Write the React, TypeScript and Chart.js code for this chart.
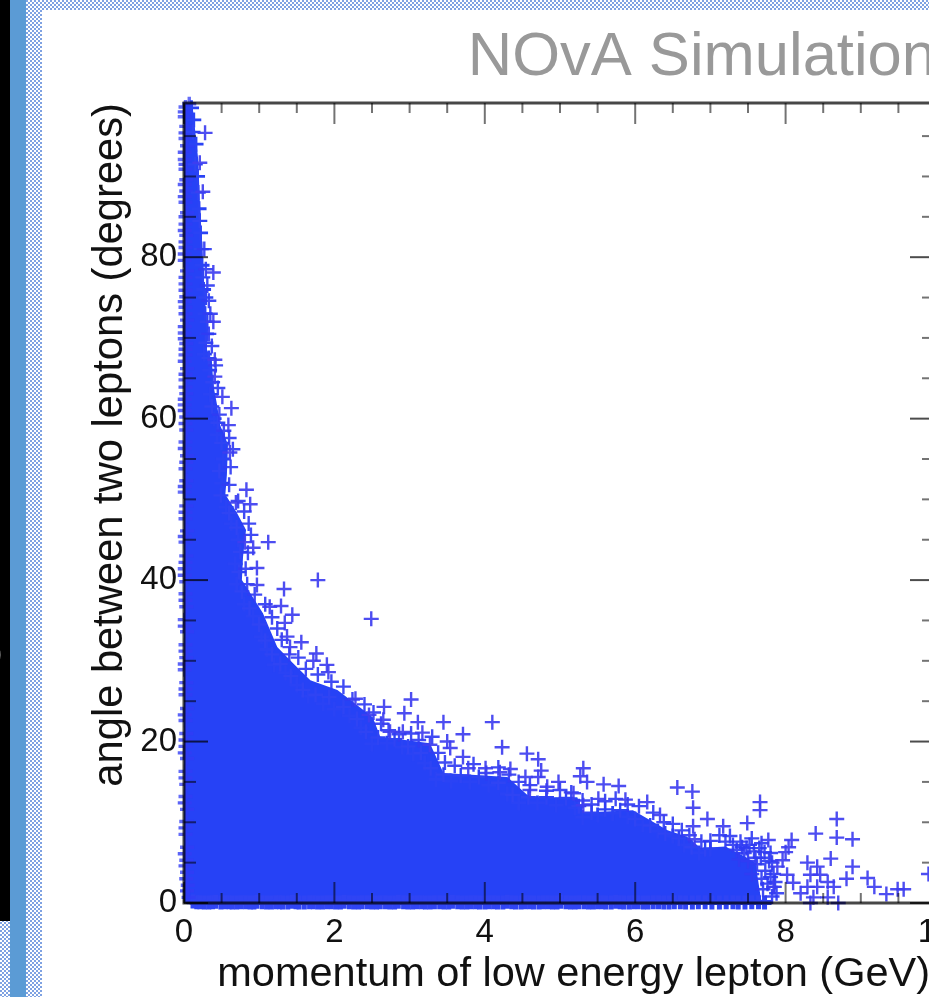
import React, { useEffect, useRef } from "react";
import { Chart, registerables } from "chart.js";

Chart.register(...registerables);

type P = [number, number];

const titleText = "NOvA Simulation";
const xTitle = "momentum of low energy lepton (GeV)";
const yTitle = "angle between two leptons (degrees)";
const xMajorTicks = [0, 2, 4, 6, 8, 10];
const xMinorTicks = [0.5, 1, 1.5, 2.5, 3, 3.5, 4.5, 5, 5.5, 6.5, 7, 7.5, 8.5, 9, 9.5];
const yMajorTicks = [0, 20, 40, 60, 80];
const yMinorTicks = [5, 10, 15, 25, 30, 35, 45, 50, 55, 65, 70, 75, 85, 90, 95];

// Outline of the solid, saturated part of the cloud.
const denseOutline: P[] = [
  [0, 99.1], [0.11, 99.1], [0.19, 92], [0.21, 87.1], [0.25, 80], [0.28, 74.7], [0.31, 71], [0.28, 69],
  [0.37, 67.3], [0.39, 64.2], [0.44, 61.7], [0.48, 59.2], [0.585, 56.8], [0.57, 53], [0.55, 50.6],
  [0.705, 48.3], [0.825, 46.2], [0.785, 42.9], [0.77, 40], [0.88, 38.4], [1.05, 35.9], [1.24, 31.7],
  [1.45, 29.7], [1.68, 27.6], [2.04, 26.4], [2.51, 23], [2.61, 20.6], [3.27, 19.8], [3.45, 16.1],
  [4.3, 15.6], [4.6, 13.1], [5.23, 13.1], [5.31, 11.2], [5.97, 11.5], [6.43, 9], [6.69, 8.2],
  [6.87, 6.8], [7.2, 7], [7.45, 5.8], [7.6, 5], [7.68, 0],
];

// Individually visible + markers above the solid region.
const outlierPoints: P[] = [
  [0.28, 95.4], [0.21, 91.7], [0.25, 88.1], [0.39, 78.1], [0.39, 72], [0.41, 67.3], [0.41, 65.2],
  [0.51, 62.7], [0.63, 61.3], [0.59, 59.2], [0.61, 55.8], [0.83, 51.2], [0.88, 49.4], [0.69, 49.6],
  [1.12, 44.7], [0.92, 44], [0.81, 44.7], [0.97, 41.5], [0.97, 39.4], [1.33, 38.9], [1.78, 40],
  [2.49, 35.2], [1.29, 36.8], [1.14, 36.7], [1.44, 35.7], [1.34, 34.7], [1.37, 33], [1.56, 32.3],
  [1.41, 31.7], [1.76, 30.9], [1.72, 30], [1.9, 29.5], [1.92, 28.6], [2.28, 25.3], [2.66, 24.3],
  [3.02, 25.2], [2.93, 23.5], [2.65, 22.7], [2.46, 23.3], [3.11, 22.4], [3.45, 22.4], [4.1, 22.4],
  [3.71, 20.9], [3.5, 20], [4.23, 19.3], [4.56, 18.5], [4.71, 17.8], [3.71, 18.1], [3.54, 19.2],
  [5.31, 16.7], [5.27, 15.7], [5.36, 15], [5.58, 14.7], [5.78, 14.5], [4.98, 15], [4.75, 16.4],
  [4.71, 15.6], [4.83, 14.4], [4.54, 15.6], [4.34, 16.6], [5.51, 12.9], [5.87, 12.8], [2.91, 21.2],
  [2.74, 21.2], [3.17, 21.1], [3.27, 19.6], [4.01, 16.7], [3.78, 16.7], [4.2, 16.2], [5.18, 13.6],
  [4.6, 14], [5.31, 12.1], [6.56, 14.3], [6.76, 13.8], [6.77, 11.8], [6.77, 9.5], [6.79, 7.9],
  [6.96, 10.4], [7.17, 9.5], [7.49, 9.9], [7.66, 12.5], [7.66, 11.5], [7.77, 7.8], [8.08, 7.8],
  [8.04, 6.9], [8.4, 8.6], [8.68, 10.4], [8.68, 8.1], [8.89, 7.9], [8.6, 5.5], [8.89, 4.5],
  [8.81, 3], [9.09, 3.1], [9.18, 2], [9.34, 1.1], [9.49, 1.7], [9.57, 1.7], [9.9, 3.6],
  [6.16, 12.5], [6.33, 10.9], [8.29, 5], [8.42, 4.5], [8.33, 3.5], [8.46, 3.5], [8.29, 2],
  [8.42, 2], [8.64, 2], [8.56, 2.6], [8.37, 0.7], [8.7, 0], [8.1, 2.5], [8.02, 3.5], [7.96, 5.3],
  [8, 6.3], [7.84, 2], [7.89, 4.5], [8.2, 1.2], [8.33, 0], [8.56, 0.7],
];

// Markers that make up the ragged rim of the solid region.
const rimPoints: P[] = [
  [0.1, 98.5], [0.13, 97], [0.16, 94], [0.18, 90], [0.2, 86], [0.22, 83], [0.24, 79], [0.26, 76],
  [0.28, 73], [0.3, 70.5], [0.27, 68], [0.34, 66], [0.35, 63], [0.4, 60], [0.44, 58], [0.52, 55],
  [0.5, 52], [0.56, 49], [0.63, 47], [0.72, 45], [0.68, 42], [0.7, 39.5], [0.8, 37], [0.92, 35.5],
  [1.03, 33], [1.1, 31.4], [1.2, 29.5], [1.35, 28.5], [1.5, 27], [1.65, 25.6], [1.85, 24.7], [2, 24],
  [2.2, 23.2], [2.35, 21.7], [2.5, 19.7], [2.7, 19.8], [2.9, 19.3], [3.05, 18.5], [3.2, 17.3],
  [3.35, 15.3], [3.55, 15.1], [3.8, 15], [4.05, 14.6], [4.3, 13.5], [4.45, 12.4], [4.7, 12.4],
  [4.95, 12.1], [5.2, 11.8], [5.3, 10.6], [5.5, 10.9], [5.7, 11.1], [5.9, 10.7], [6.1, 9.7],
  [6.3, 8.9], [6.5, 8.3], [6.65, 7.2], [6.85, 6.2], [7, 6.7],
];

const outerRimPoints: P[] = [
  [0.12, 95.5], [0.15, 91.5], [0.19, 88], [0.21, 84.5], [0.23, 81], [0.25, 77.5], [0.29, 75], [0.31, 72],
  [0.29, 69.4], [0.33, 67.5], [0.38, 64.5], [0.37, 61.5], [0.45, 59.5], [0.5, 57], [0.47, 53.5], [0.49, 50.5],
  [0.6, 48.3], [0.7, 46.5], [0.75, 43.5], [0.73, 41], [0.77, 38.6], [0.87, 36.5], [1, 34.5], [1.08, 32.5],
  [1.17, 30.8], [1.28, 29.6], [1.42, 28.1], [1.58, 26.4], [1.75, 25.8], [1.93, 25.5], [2.12, 24.3], [2.3, 22.8],
  [2.42, 21.2], [2.58, 20.5], [2.8, 20.3], [2.98, 19.4], [3.15, 18.6], [3.28, 16.7], [3.45, 15.9], [3.68, 15.8],
  [3.92, 15.6], [4.18, 14.9], [4.37, 13.4], [4.58, 13.1], [4.82, 13.1], [5.08, 13], [5.25, 12], [5.42, 11.2],
  [5.6, 11.6], [5.8, 11.5], [6, 10.4], [6.2, 9.6], [6.4, 8.6], [6.58, 8], [6.75, 6.9], [6.93, 6.7],
];

// Markers straddling the edge of the cloud, so that their arms stick out of it.
const fringePoints: P[] = [
  [0.27, 81], [0.29, 78.5], [0.31, 76.5], [0.33, 74.6], [0.35, 73], [0.33, 70.5], [0.37, 69], [0.42, 66.6],
  [0.45, 63.8], [0.47, 60.5], [0.53, 58.5], [0.6, 57.6], [0.65, 56.2], [0.62, 54], [0.6, 51.8], [0.72, 49.8],
  [0.8, 48.5], [0.86, 47], [0.89, 45.6], [0.85, 43.4], [0.82, 41.4], [0.84, 39.5], [0.94, 38.2], [1.08, 37],
  [1.17, 35.4], [1.24, 34], [1.3, 32.6], [1.4, 30.8], [1.52, 30.4], [1.62, 29], [1.78, 28.3], [1.96, 27.4],
  [2.12, 26.8], [2.24, 25.2], [2.4, 24.6], [2.52, 23.6], [2.62, 22.2], [2.72, 21.4], [2.86, 20.9], [3.02, 21],
  [3.12, 20.2], [3.3, 20.6], [3.38, 18.6], [3.47, 17.4], [3.6, 17], [3.85, 17.2], [4.02, 16.1], [4.18, 16.8],
  [4.32, 15.9], [4.45, 15], [4.6, 14.6], [4.82, 13.9], [5, 14], [5.15, 13.7], [5.3, 12.7], [5.42, 12.2],
  [5.6, 12.6], [5.74, 12.9], [5.9, 12.2], [6.05, 12], [6.24, 11.2], [6.38, 10], [6.5, 9.8], [6.62, 9],
  [6.72, 8.4], [6.88, 7.6], [7, 7.7], [7.12, 8.4], [7.26, 8.3], [7.4, 7.6], [7.55, 8], [7.68, 7.4],
  [7.8, 6.2], [7.82, 5], [7.84, 3.6], [7.86, 2.6], [7.88, 1.2],
];

// The thinner tail of the cloud, where white still shows between the markers.
const tailPoints: P[] = [
  [7.3, 7.2], [7.35, 6.6], [7.38, 5.4], [7.42, 6.9], [7.45, 6.2], [7.48, 6.8], [7.5, 5.2], [7.52, 7.2],
  [7.55, 3.6], [7.58, 6.4], [7.6, 5.6], [7.62, 4.8], [7.65, 6.8], [7.67, 5.6], [7.68, 3], [7.7, 1.7],
  [7.72, 6.3], [7.73, 4], [7.76, 2.4], [7.78, 5.2], [7.8, 3.2], [7.82, 0.8], [7.85, 2], [7.2, 7.6],
];

// Markers sitting on the y axis, which spill to its left.
const leftEdgePoints: P[] = [
  [0.02, 98.6], [0.07, 99], [0.01, 97.4], [0.03, 96.2], [0.02, 94.7], [0.04, 93.8], [0.01, 92.1],
  [0.02, 90.9], [0.03, 89.6], [0.03, 88.2], [0.02, 86.8], [0.04, 85.5], [0.02, 84.1], [0.03, 82.7],
  [0.02, 81.2], [0.01, 79.6], [0.04, 78.3], [0.02, 76.7], [0.03, 75.1], [0.02, 73.8], [0.04, 72.2],
  [0.01, 70.6], [0.03, 69.3], [0.02, 67.9], [0.04, 66.2], [0.02, 64.8], [0.03, 63.1], [0.01, 61.7],
  [0.03, 60.2], [0.03, 58.6], [0.02, 57.1], [0.04, 55.4], [0.02, 53.8], [0.03, 52.3], [0.01, 50.9],
  [0.03, 49.2], [0.02, 47.6], [0.04, 46.1], [0.02, 44.7], [0.03, 43], [0.01, 41.4], [0.03, 39.8],
  [0.02, 38.3], [0.03, 36.7], [0.01, 35.1], [0.04, 33.6], [0.02, 32], [0.03, 30.4], [0.01, 28.9],
  [0.03, 27.3], [0.02, 25.8], [0.04, 24.1], [0.02, 22.6], [0.03, 21], [0.02, 19.4], [0.04, 17.9],
  [0.02, 16.3], [0.03, 14.7], [0.02, 13.2], [0.04, 11.6], [0.03, 10.1], [0.02, 8.5], [0.04, 6.9],
  [0.03, 5.3], [0.04, 3.8], [0.05, 2.2], [0.06, 0.7],
];

const leftEdgeExtra: P[] = [
  [0.01, 61], [0.02, 59.4], [0.01, 56.3], [0.03, 54.6], [0.01, 51.6], [0.02, 48.4], [0.01, 45.4],
  [0.02, 42.2], [0.01, 40.6], [0.02, 37.5], [0.01, 34.3], [0.02, 31.2], [0.01, 29.6], [0.02, 26.5],
  [0.01, 23.3], [0.02, 20.2], [0.01, 18.6], [0.02, 15.5], [0.01, 12.4], [0.02, 9.3], [0.01, 6.1],
  [0.02, 4.6], [0.03, 3], [0.04, 1.5], [0.02, 75.9], [0.01, 71.4], [0.02, 65.5], [0.01, 87.5],
  [0.01, 98], [0.02, 95.4], [0.01, 93], [0.02, 91.5], [0.01, 89], [0.02, 85], [0.01, 83.3], [0.02, 81.9],
  [0.01, 80.4], [0.02, 77.5], [0.01, 74.5], [0.02, 73], [0.01, 69.9], [0.02, 68.6], [0.01, 67.1],
  [0.02, 63.9], [0.01, 62.4],
];

// Markers sitting on the x axis, which spill below it.
const bottomEdgePoints: P[] = [
  [0.12, 0.2], [0.21, 0.1], [0.33, 0.05], [0.42, 0.15], [0.55, 0.1], [0.64, 0.05], [0.76, 0.1],
  [0.88, 0.05], [0.97, 0.15], [1.1, 0.05], [1.22, 0.1], [1.31, 0.05], [1.44, 0.15], [1.53, 0.05],
  [1.67, 0.1], [1.78, 0.05], [1.9, 0.1], [2.02, 0.05], [2.13, 0.15], [2.26, 0.05], [2.37, 0.1],
  [2.5, 0.05], [2.61, 0.1], [2.74, 0.05], [2.85, 0.15], [2.98, 0.05], [3.1, 0.1], [3.21, 0.05],
  [3.33, 0.1], [3.46, 0.05], [3.57, 0.15], [3.7, 0.05], [3.82, 0.1], [3.93, 0.05], [4.06, 0.1],
  [4.17, 0.05], [4.3, 0.15], [4.41, 0.05], [4.54, 0.1], [4.65, 0.05], [4.78, 0.1], [4.9, 0.05],
  [5.01, 0.15], [5.14, 0.05], [5.25, 0.1], [5.38, 0.05], [5.5, 0.1], [5.61, 0.05], [5.74, 0.15],
  [5.85, 0.05], [5.98, 0.1], [6.11, 0.05], [6.24, 0.1], [6.38, 0.05], [6.52, 0.1], [6.67, 0.05],
  [6.84, 0.1], [7.02, 0.05], [7.21, 0.1], [7.37, 0.05], [7.55, 0.1], [7.72, 0.05],
];

const bottomEdgeExtra: P[] = [
  [0.17, 0.1], [0.27, 0.05], [0.38, 0.1], [0.49, 0.05], [0.6, 0.1], [0.7, 0.05], [0.82, 0.1], [0.93, 0.05],
  [1.04, 0.1], [1.16, 0.05], [1.27, 0.1], [1.38, 0.05], [1.49, 0.1], [1.6, 0.05], [1.72, 0.1], [1.84, 0.05],
  [1.96, 0.1], [2.08, 0.05], [2.2, 0.1], [2.32, 0.05], [2.44, 0.1], [2.56, 0.05], [2.68, 0.1], [2.8, 0.05],
  [2.92, 0.1], [3.04, 0.05], [3.16, 0.1], [3.27, 0.05], [3.4, 0.1], [3.52, 0.05], [3.64, 0.1], [3.76, 0.05],
  [3.88, 0.1], [4, 0.05], [4.12, 0.1], [4.24, 0.05], [4.36, 0.1], [4.48, 0.05], [4.6, 0.1], [4.72, 0.05],
  [4.84, 0.1], [4.96, 0.05], [5.08, 0.1], [5.2, 0.05], [5.32, 0.1], [5.44, 0.05], [5.56, 0.1], [5.68, 0.05],
  [5.8, 0.1], [5.92, 0.05], [6.04, 0.1], [6.17, 0.05], [6.31, 0.1], [6.45, 0.05], [6.6, 0.1], [6.76, 0.05],
  [6.93, 0.1], [7.12, 0.05], [7.3, 0.1], [7.46, 0.05], [7.64, 0.1],
];

const toXY = (pts: P[]) => pts.map(([x, y]) => ({ x, y }));

const axisFramePlugin = {
  id: "axisFrame",
  afterDatasetsDraw(chart: any) {
    const { ctx, chartArea: a, scales } = chart;
    const xs = scales.x;
    const ys = scales.y;
    ctx.save();
    ctx.lineCap = "butt";
    const tick = (x1: number, y1: number, x2: number, y2: number) => {
      ctx.beginPath();
      ctx.moveTo(x1, y1);
      ctx.lineTo(x2, y2);
      ctx.stroke();
    };
    ctx.strokeStyle = "rgba(0,0,0,0.55)";
    ctx.lineWidth = 2;
    xMinorTicks.forEach((v) => {
      const p = xs.getPixelForValue(v);
      tick(p, a.top, p, a.top + 10);
      tick(p, a.bottom, p, a.bottom - 10);
    });
    yMinorTicks.forEach((v) => {
      const p = ys.getPixelForValue(v);
      tick(a.left, p, a.left + 12, p);
      tick(a.right, p, a.right - 14, p);
    });
    xMajorTicks.forEach((v) => {
      const p = xs.getPixelForValue(v);
      tick(p, a.top, p, a.top + 21);
      tick(p, a.bottom, p, a.bottom - 21);
    });
    ctx.strokeStyle = "rgba(0,0,0,0.7)";
    yMajorTicks.forEach((v) => {
      const p = ys.getPixelForValue(v);
      tick(a.left, p, a.left + 24, p);
      tick(a.right, p, a.right - 26, p);
    });
    ctx.strokeStyle = "rgba(0,0,0,0.72)";
    ctx.lineWidth = 3;
    ctx.strokeRect(a.left, a.top, a.right - a.left, a.bottom - a.top);
    // x axis title: its right end sits a little short of the axis end.
    ctx.fillStyle = "#111111";
    ctx.font = "41.5px 'Liberation Sans'";
    ctx.textAlign = "right";
    ctx.textBaseline = "alphabetic";
    ctx.fillText(xTitle, a.right - 6, 986);
    ctx.restore();
  },
};

const checker = {
  backgroundColor: "#ffffff",
  backgroundImage: "conic-gradient(#7fa2e2 25%, #ffffff 0 50%, #7fa2e2 0 75%, #ffffff 0)",
  backgroundSize: "4px 4px",
};

export default function App() {
  const ref = useRef<HTMLCanvasElement>(null);
  useEffect(() => {
    const markerStyle = {
      showLine: false,
      pointStyle: "cross",
      pointRadius: 7.5,
      pointBorderWidth: 2.4,
      pointBorderColor: "rgba(62,62,240,0.92)",
      clip: false,
    };
    const chart = new Chart(ref.current as HTMLCanvasElement, {
      type: "scatter",
      data: {
        datasets: [
          {
            label: "dense",
            data: toXY(denseOutline),
            showLine: true,
            fill: "origin",
            tension: 0,
            borderWidth: 0,
            pointRadius: 0,
            backgroundColor: "#2642f6",
            borderColor: "#2642f6",
            order: 10,
          },
          { label: "rim", data: toXY(rimPoints), ...markerStyle, pointBorderWidth: 2.8, pointBorderColor: "#2a43f5", order: 5 },
          { label: "outer rim", data: toXY(outerRimPoints), ...markerStyle, pointBorderWidth: 2.4, pointBorderColor: "#2f44f4", order: 4 },
          { label: "fringe", data: toXY(fringePoints), ...markerStyle, pointBorderColor: "rgba(48,60,243,0.92)", order: 3 },
          { label: "tail", data: toXY(tailPoints), ...markerStyle, pointBorderColor: "rgba(48,60,243,0.92)", order: 3 },
          { label: "left", data: toXY(leftEdgePoints), ...markerStyle, pointRadius: 7, pointBorderWidth: 3.4, pointBorderColor: "rgba(50,60,245,0.75)", order: 6 },
          { label: "left extra", data: toXY(leftEdgeExtra), ...markerStyle, pointRadius: 7, pointBorderWidth: 3.4, pointBorderColor: "rgba(50,60,245,0.8)", order: 6 },
          { label: "bottom", data: toXY(bottomEdgePoints), ...markerStyle, pointRadius: 7, pointBorderWidth: 5, pointBorderColor: "#2f44f4", order: 6 },
          { label: "bottom extra", data: toXY(bottomEdgeExtra), ...markerStyle, pointRadius: 7, pointBorderWidth: 5, pointBorderColor: "#2f44f4", order: 6 },
          { label: "outliers", data: toXY(outlierPoints), ...markerStyle, order: 1 },
        ],
      } as any,
      options: {
        responsive: false,
        animation: false,
        layout: { padding: { left: 0, right: 64, top: 0, bottom: 0 } },
        plugins: {
          legend: { display: false },
          tooltip: { enabled: false },
          title: {
            display: true,
            text: titleText,
            align: "end",
            color: "#999999",
            font: { family: "Liberation Sans", size: 61.5, weight: "normal", lineHeight: 1 },
            padding: { top: 27, bottom: 14.5 },
          },
        },
        scales: {
          x: {
            type: "linear",
            min: 0,
            max: 10,
            afterFit: (s: any) => { s.height = 94; },
            grid: { display: false, drawTicks: false },
            border: { display: false },
            ticks: {
              stepSize: 2,
              padding: 10,
              maxRotation: 0,
              autoSkip: false,
              color: "#111111",
              font: { family: "Liberation Sans", size: 33 },
            },
          },
          y: {
            type: "linear",
            min: 0,
            max: 99.1,
            afterFit: (s: any) => { s.width = 184; },
            grid: { display: false, drawTicks: false },
            border: { display: false },
            ticks: {
              stepSize: 20,
              includeBounds: false,
              padding: 7,
              autoSkip: false,
              color: "#111111",
              font: { family: "Liberation Sans", size: 33 },
            },
            title: {
              display: true,
              text: yTitle,
              align: "end",
              color: "#111111",
              font: { family: "Liberation Sans", size: 41.7 },
              padding: { top: 85, bottom: 0 },
            },
          },
        },
      } as any,
      plugins: [axisFramePlugin],
    });
    return () => chart.destroy();
  }, []);

  return (
    <div style={{ position: "fixed", left: 0, top: 0, width: 929, height: 997, overflow: "hidden", ...checker }}>
      <div style={{ position: "absolute", left: 0, top: 0, width: 10, height: 921, background: "#000", overflow: "hidden" }}>
        <span style={{ position: "absolute", left: -15, top: 638, font: "30px 'Liberation Sans'", color: "#aaa", filter: "blur(0.5px)" }}>0</span>
      </div>
      <div style={{ position: "absolute", left: 10, top: 0, width: 16, height: 997, background: "#5b9bd5" }} />
      <div style={{ position: "absolute", left: 42, top: 10, width: 887, height: 987, background: "#fff" }} />
      <canvas ref={ref} width={1000} height={997} style={{ position: "absolute", left: 0, top: 0, display: "block", filter: "blur(0.6px)" }} />
    </div>
  );
}
